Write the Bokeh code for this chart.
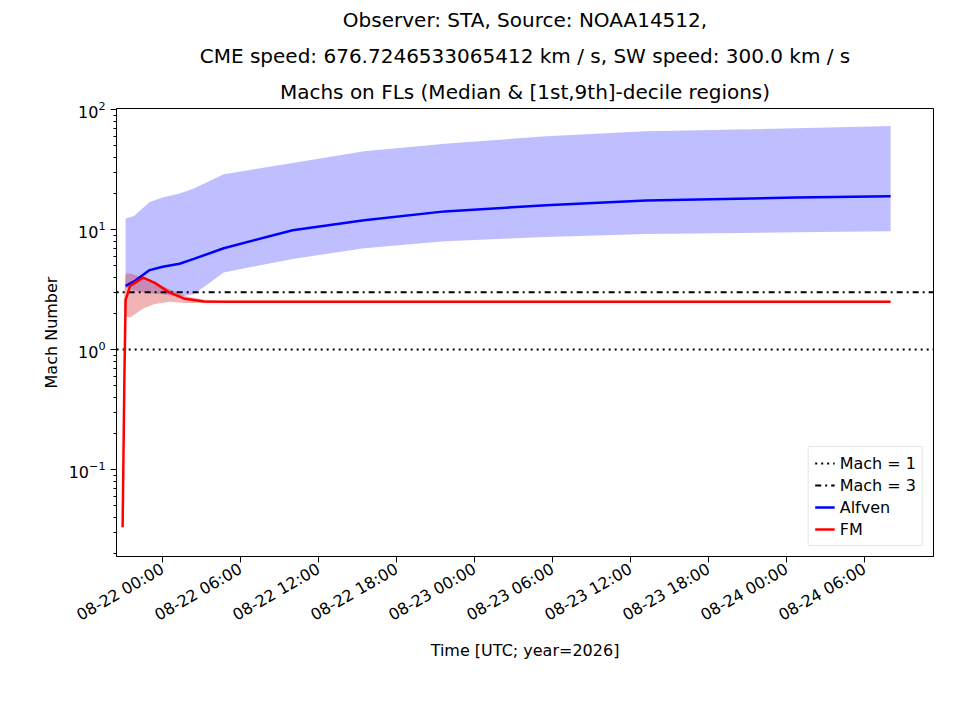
import numpy as np
from datetime import datetime, timedelta
from bokeh.plotting import figure
from bokeh.models import Title, DatetimeTickFormatter, FixedTicker, Legend, LegendItem
from bokeh.embed import file_html
from bokeh.resources import INLINE

base = datetime(2026, 8, 22, 0, 0)
# hours relative to 08-22 00:00
alf_t = [-2.85, -2.2, -1.0, 0.0, 1.3, 2.4, 4.7, 10.0, 15.5, 21.7, 29.5, 37.2, 48.7, 56.0]
alf_med = [3.4, 3.7, 4.6, 4.9, 5.2, 5.7, 7.0, 9.9, 12.0, 14.2, 16.0, 17.5, 18.5, 19.0]
alf_hi = [12.4, 13.0, 17.0, 18.5, 20.0, 22.0, 29.0, 36.0, 45.0, 52.0, 60.0, 66.0, 70.0, 73.0]
alf_lo = [3.3, 3.1, 2.95, 2.9, 2.76, 2.9, 4.4, 5.7, 7.0, 8.0, 8.7, 9.2, 9.5, 9.7]
fm_t = [-3.08, -2.95, -2.85, -2.5, -1.5, -0.6, 0.5, 1.7, 3.2, 5.0, 56.0]
fm_med = [0.033, 0.5, 2.6, 3.4, 3.98, 3.6, 3.0, 2.65, 2.52, 2.5, 2.5]
fm_hi = [0.04, 3.0, 4.3, 4.3, 4.0, 3.6, 3.2, 2.8, 2.6, 2.55, 2.55]
fm_lo = [0.03, 0.3, 1.9, 1.85, 2.2, 2.4, 2.5, 2.45, 2.45, 2.45, 2.45]

def dt(hs):
    return [base + timedelta(hours=h) for h in hs]

p = figure(x_axis_type="datetime", y_axis_type="log", output_backend="svg", toolbar_location=None,
           frame_width=817, frame_height=448, min_border_left=116, min_border_right=18,
           min_border_top=10, min_border_bottom=10,
           x_range=(base + timedelta(hours=-3.55), base + timedelta(hours=59.3)),
           y_range=(10**-1.725, 10**2.01))
p.title.visible = False
def add_title(t, off):
    p.add_layout(Title(text=t, align="center", text_font_size="15pt", text_font_style="normal",
                       text_font="DejaVu Sans", text_color="black", offset=off), "above")
add_title("Machs on FLs (Median & [1st,9th]-decile regions)", 0)
add_title("CME speed: 676.7246533065412 km / s, SW speed: 300.0 km / s", 0)
add_title("Observer: STA, Source: NOAA14512,", 0)
p.grid.visible = False
p.outline_line_color = "black"

p.varea(x=dt(alf_t), y1=alf_lo, y2=alf_hi, fill_color="blue", fill_alpha=0.25)
p.varea(x=dt(fm_t), y1=fm_lo, y2=fm_hi, fill_color="#d62728", fill_alpha=0.35)
l1 = p.line(x=[base + timedelta(hours=-10), base + timedelta(hours=70)], y=[1, 1], line_color="black", line_width=2, line_dash="dotted")
l3 = p.line(x=[base + timedelta(hours=-10), base + timedelta(hours=70)], y=[3, 3], line_color="black", line_width=2, line_dash="dashdot")
la = p.line(x=dt(alf_t), y=alf_med, line_color="blue", line_width=2.5)
lf = p.line(x=dt(fm_t), y=fm_med, line_color="red", line_width=2.5)

ticks = [(base + timedelta(hours=6*i) - datetime(1970, 1, 1)).total_seconds()*1000 for i in range(10)]
p.xaxis.ticker = FixedTicker(ticks=ticks)
p.xaxis.formatter = DatetimeTickFormatter(hours="%m-%d %H:%M", days="%m-%d %H:%M", months="%m-%d %H:%M")
p.xaxis.major_label_orientation = np.deg2rad(30)
p.xaxis.axis_label = "Time [UTC; year=2026]"
p.yaxis.axis_label = "Mach Number"
for ax in (p.xaxis, p.yaxis):
    ax.major_label_text_font_size = "12pt"
    ax.axis_label_text_font_size = "12pt"
    ax.axis_label_text_font_style = "normal"
    ax.major_label_text_font = "DejaVu Sans"
    ax.axis_label_text_font = "DejaVu Sans"
    ax.major_label_text_color = "black"
    ax.axis_label_text_color = "black"
    ax.major_tick_in = 0
    ax.major_tick_out = 6
    ax.minor_tick_in = 0
    ax.minor_tick_out = 3
    ax.axis_line_color = "black"

legend = Legend(items=[LegendItem(label="Mach = 1", renderers=[l1]), LegendItem(label="Mach = 3", renderers=[l3]),
                       LegendItem(label="Alfven", renderers=[la]), LegendItem(label="FM", renderers=[lf])],
                location="bottom_right", label_text_font_size="12pt", label_text_font="DejaVu Sans",
                label_text_color="black", border_line_color="#cccccc", spacing=2, padding=6, margin=10)
p.add_layout(legend)

open("out.html", "w").write(file_html(p, INLINE))
